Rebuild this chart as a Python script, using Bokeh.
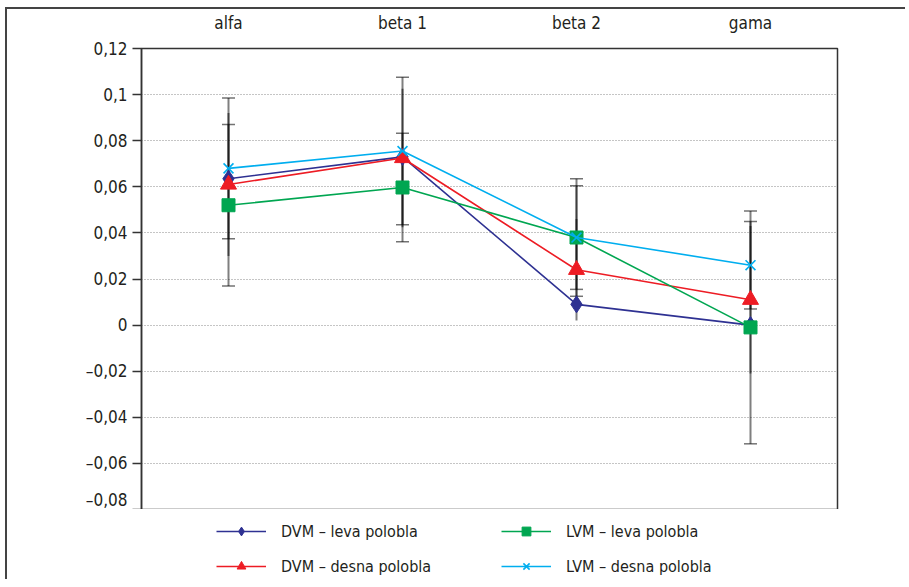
from bokeh.plotting import figure
from bokeh.layouts import column
from bokeh.models import (FactorRange, Range1d, FixedTicker, Legend, LegendItem,
                          ColumnDataSource, Whisker, TeeHead)
from bokeh.embed import file_html
from bokeh.resources import INLINE

categories = ["alfa", "beta 1", "beta 2", "gama"]

dvm_leva = [0.0635, 0.073, 0.009, 0.0]
dvm_desna = [0.061, 0.0725, 0.024, 0.011]
lvm_leva = [0.052, 0.0597, 0.038, -0.001]
lvm_desna = [0.068, 0.0755, 0.038, 0.026]

# error half-widths
lvm_leva_err = [0.035, 0.0235, 0.0225, 0.0505]
lvm_desna_err = [0.0305, 0.032, 0.0255, 0.019]
dvm_desna_err = [0.031, 0.030, 0.022, 0.032]

y_ticks = [-0.08, -0.06, -0.04, -0.02, 0, 0.02, 0.04, 0.06, 0.08, 0.1, 0.12]
y_labels = ["–0,08", "–0,06", "–0,04", "–0,02", "0", "0,02", "0,04", "0,06",
            "0,08", "0,1", "0,12"]

series_names = ["DVM – leva polobla", "DVM – desna polobla",
                "LVM – leva polobla", "LVM – desna polobla"]

FONT = "'DejaVu Sans Condensed', 'DejaVu Sans', sans-serif"
TXT = "#231f20"

p = figure(width=900, height=502, x_range=FactorRange(*categories),
           y_range=Range1d(-0.08, 0.12), x_axis_location="above",
           output_backend="svg", toolbar_location=None,
           min_border_left=134, min_border_top=38, min_border_right=70,
           min_border_bottom=2)
p.styles = {"border-top": "2px solid #444", "border-left": "2px solid #444"}

p.outline_line_color = "#333333"
p.outline_line_width = 1.5
p.xgrid.grid_line_color = None
p.ygrid.grid_line_color = "#8a8a8a"
p.ygrid.grid_line_dash = "1 2"
p.ygrid.grid_line_width = 1

p.yaxis.ticker = FixedTicker(ticks=y_ticks)
p.yaxis.major_label_overrides = {t: l for t, l in zip(y_ticks, y_labels)}
p.yaxis.major_label_text_font = FONT
p.yaxis.major_label_text_font_size = "17px"
p.yaxis.major_label_text_color = TXT
p.yaxis.major_tick_out = 9
p.yaxis.major_tick_in = 0
p.yaxis.minor_tick_line_color = None
p.yaxis.major_tick_line_color = "#333333"
p.yaxis.major_tick_line_width = 1.5
p.yaxis.axis_line_color = "#333333"
p.yaxis.axis_line_width = 1.5
p.yaxis.major_label_standoff = 5

p.xaxis.axis_line_color = None
p.xaxis.major_tick_line_color = None
p.xaxis.minor_tick_line_color = None
p.xaxis.major_label_text_font = FONT
p.xaxis.major_label_text_font_size = "17px"
p.xaxis.major_label_text_color = TXT
p.xaxis.major_label_standoff = 10

# error bars
def add_whisker(vals, errs, caps):
    src = ColumnDataSource(dict(x=categories,
                                lower=[v - e for v, e in zip(vals, errs)],
                                upper=[v + e for v, e in zip(vals, errs)]))
    if caps:
        uh = TeeHead(size=13, line_color="black", line_alpha=0.55, line_width=1.5)
        lh = TeeHead(size=13, line_color="black", line_alpha=0.55, line_width=1.5)
    else:
        uh = None
        lh = None
    w = Whisker(base="x", lower="lower", upper="upper", source=src,
                line_color="black", line_alpha=0.5, line_width=2,
                upper_head=uh, lower_head=lh, level="underlay")
    p.add_layout(w)

add_whisker(lvm_leva, lvm_leva_err, True)
add_whisker(lvm_desna, lvm_desna_err, True)
add_whisker(dvm_desna, dvm_desna_err, False)

colors = ["#2e3192", "#ed1c24", "#00a651", "#00aeef"]
markers = ["diamond", "triangle", "square", "x"]
sizes = [17, 16, 13, 14]
data = [dvm_leva, dvm_desna, lvm_leva, lvm_desna]

# legend strip below the chart (its own copies of the glyphs lie out of view)
f2 = figure(width=900, height=70, x_range=FactorRange(*categories),
            y_range=Range1d(10, 11), x_axis_type=None, y_axis_type=None,
            output_backend="svg", toolbar_location=None, min_border=0)
f2.styles = {"border-left": "2px solid #444"}
f2.outline_line_color = None
f2.grid.grid_line_color = None

items = []
for name, vals, c, m, s in zip(series_names, data, colors, markers, sizes):
    for fig in (p, f2):
        r1 = fig.line(categories, vals, line_color=c, line_width=1.6)
        if m == "x":
            r2 = fig.scatter(categories, vals, marker=m, size=s, line_color=c,
                             line_width=1.6)
        else:
            r2 = fig.scatter(categories, vals, marker=m, size=s, fill_color=c,
                             line_color=c, line_width=1)
    items.append(LegendItem(label=name, renderers=[r1, r2]))

legend = Legend(items=items, location=(75, 2), ncols=2,
                orientation="vertical", glyph_width=50, glyph_height=22,
                spacing=13, label_standoff=15, label_width=207, padding=0,
                margin=0, border_line_color=None, background_fill_alpha=0,
                label_text_font=FONT, label_text_font_size="16px",
                label_text_color=TXT)
f2.add_layout(legend, "center")

layout = column(p, f2)
layout.styles = {"position": "relative", "left": "5px", "top": "7px"}
open("out.html", "w").write(file_html(layout, INLINE))
